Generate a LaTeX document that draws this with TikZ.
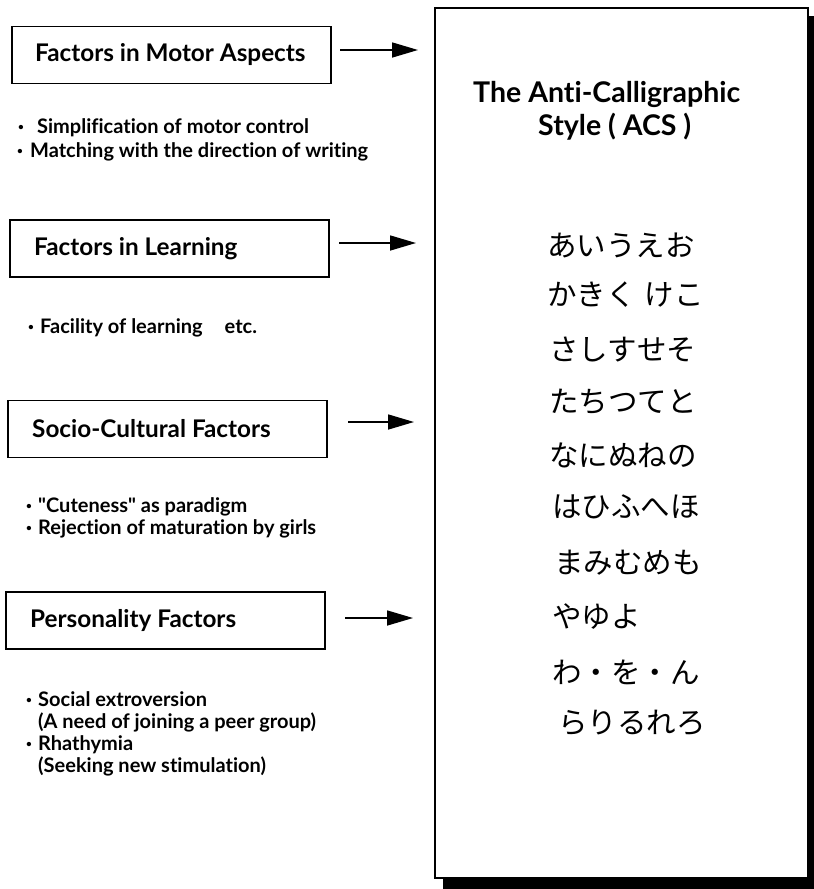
\documentclass[tikz,border=0pt]{standalone}
\usepackage{fontspec}
\setmainfont{Lato}[Ligatures={TeX,NoCommon}]
\newfontfamily\jpfont{Noto Sans CJK JP}
\usetikzlibrary{arrows.meta}
\newcommand\bdot{\raisebox{0.15em}{\scalebox{0.5}{\textbullet}}}
\newcommand\bl[1]{\makebox[#1][l]{\bdot}}
\tikzset{
  factorbox/.style={draw=black, line width=1.8pt, minimum width=319pt, minimum height=57pt, inner sep=0pt},
  boxlabel/.style={font=\fontsize{24.3}{26}\selectfont\bfseries, anchor=west, inner sep=0pt},
  bullets/.style={font=\fontsize{20}{22}\selectfont\bfseries, anchor=base west, align=left, inner sep=0pt},
  titletext/.style={font=\fontsize{28.5}{32}\selectfont\bfseries, anchor=base west, inner sep=0pt},
  kana/.style={font=\jpfont\fontsize{29.5}{31}\selectfont, anchor=west, inner sep=0pt},
  flow/.style={line width=1.6pt, -{Triangle[length=26pt, width=15pt]}},
}
\begin{document}
\begin{tikzpicture}[x=1pt, y=-1pt]
\useasboundingbox (0,0) rectangle (814,889);
% big box with shadow
\fill[black] (443,16) rectangle (816,889);
\filldraw[fill=white, draw=black, line width=2pt] (435,8) rectangle (808,878);
\node (acs1) [titletext] at (473,102) {The Anti-Calligraphic};
\node (acs2) [titletext] at (538,135) {Style ( ACS )};
% factor boxes
\node (b1) [factorbox] at (171.5,55) {};
\node (t1) [boxlabel] at (35,55) {Factors in Motor Aspects};
\node (b2) [factorbox] at (169.5,248.5) {};
\node (t2) [boxlabel] at (34,248.5) {Factors in Learning};
\node (b3) [factorbox] at (167.5,429) {};
\node (t3) [boxlabel] at (32,429) {Socio-Cultural Factors};
\node (b4) [factorbox] at (165.5,620.5) {};
\node (t4) [boxlabel] at (30,620.5) {Personality Factors};
% arrows
\coordinate (a1s) at (340,50); \coordinate (a1e) at (418,50);
\coordinate (a2s) at (339,243); \coordinate (a2e) at (416,243);
\coordinate (a3s) at (348,422); \coordinate (a3e) at (414,422);
\coordinate (a4s) at (345,618); \coordinate (a4e) at (413,618);
\draw[flow] (a1s) -- (a1e);
\draw[flow] (a2s) -- (a2e);
\draw[flow] (a3s) -- (a3e);
\draw[flow] (a4s) -- (a4e);
% bullet texts (anchored at the baseline of their last line)
\node (l1) [bullets, font=\fontsize{20}{24}\selectfont\bfseries] at (17,157) {\hspace*{1pt}\bl{19pt}Simplification of motor control\\\bl{13pt}Matching with the direction of writing};
\node (l2) [bullets] at (28,333) {\bl{12pt}Facility of learning\hspace{1.1em}etc.};
\node (l3) [bullets] at (26,534) {\bl{12pt}\textquotedbl Cuteness\textquotedbl{} as paradigm\\\bl{12pt}Rejection of maturation by girls};
\node (l4) [bullets] at (26,772) {\bl{12pt}Social extroversion\\\hspace*{12pt}(A need of joining a peer group)\\\bl{12pt}Rhathymia\\\hspace*{12pt}(Seeking new stimulation)};
% kana rows
\node (k1) [kana] at (547,245) {あいうえお};
\node (k2) [kana] at (547,295) {かきく\hspace{0.3em}けこ};
\node (k3) [kana] at (549,350) {さしすせそ};
\node (k4) [kana] at (549,402) {たちつてと};
\node (k5) [kana] at (549,455) {なにぬねの};
\node (k6) [kana] at (552,507) {はひふへほ};
\node (k7) [kana] at (554,563) {まみむめも};
\node (k8) [kana] at (552,617) {やゆよ};
\node (k9) [kana] at (552,672) {わ・を・ん};
\node (k10) [kana] at (558,723) {らりるれろ};
\end{tikzpicture}
\end{document}
